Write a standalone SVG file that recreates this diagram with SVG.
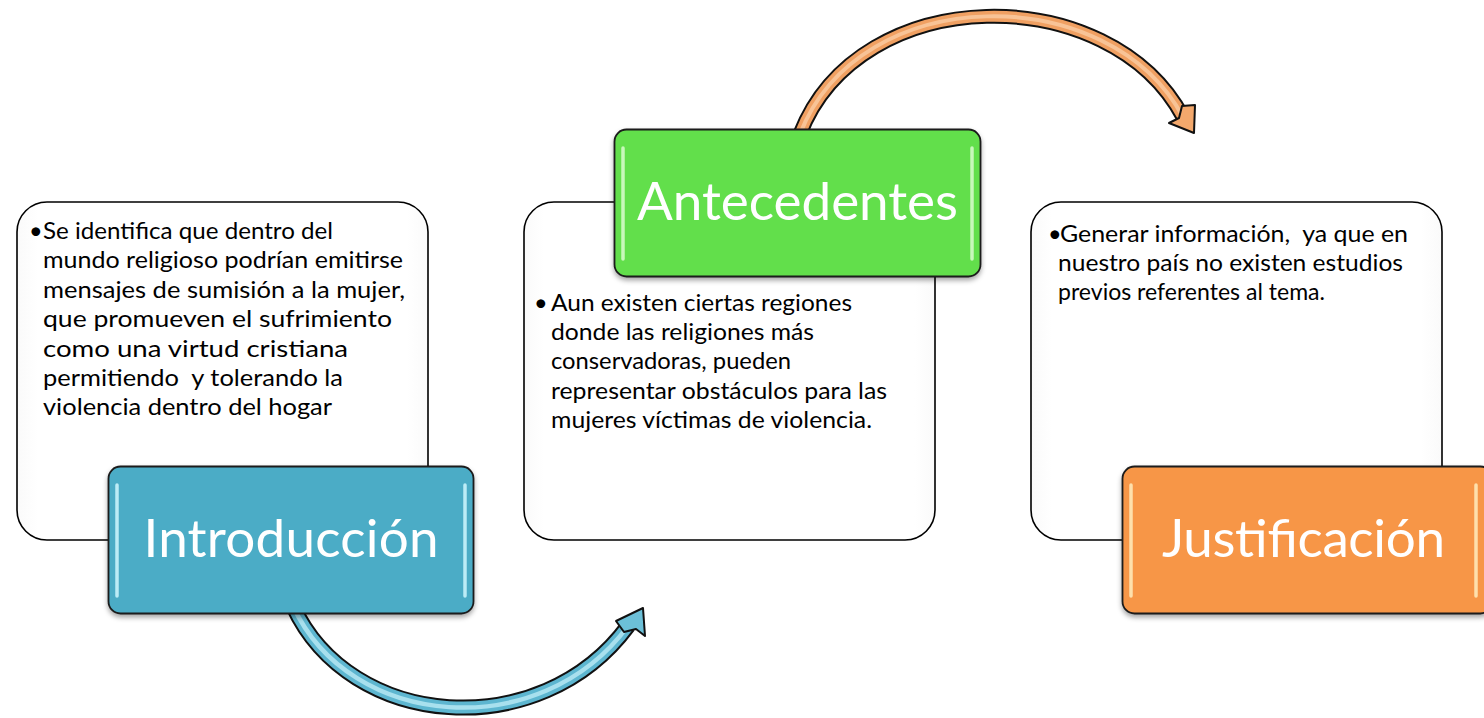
<svg xmlns="http://www.w3.org/2000/svg" width="1484" height="718" viewBox="0 0 1484 718">
<defs>
<style>
.panel{fill:url(#pg);stroke:#000;stroke-width:1.6}
.body{font-family:Lato,"Open Sans","Liberation Sans",sans-serif;font-size:23.5px;fill:#000}
.title{font-family:Lato,"Open Sans","Liberation Sans",sans-serif;font-size:53px;fill:#fff;text-anchor:middle}
.hl{stroke-width:3.5;stroke-linecap:round;opacity:0.9}
.tab{stroke:#1a1a1a;stroke-width:1.8}
</style>
<linearGradient id="pg" x1="0" y1="0" x2="1" y2="0">
<stop offset="0" stop-color="#fafafa"/><stop offset="0.05" stop-color="#ffffff"/><stop offset="0.95" stop-color="#ffffff"/><stop offset="1" stop-color="#fafafa"/>
</linearGradient>
<filter id="sh" x="-10%" y="-10%" width="120%" height="130%">
<feDropShadow dx="0" dy="3" stdDeviation="2.5" flood-color="#000" flood-opacity="0.35"/>
</filter>
</defs>

<g id="connectors">
<g id="arrow-blue">
<path d="M293 606 C350 730 540 745 628 626" fill="none" stroke="#111" stroke-width="16"/>
<path d="M293 606 C350 730 540 745 628 626" fill="none" stroke="#5DB6D0" stroke-width="12"/>
<path d="M293 606 C350 730 540 745 628 626" fill="none" stroke="#A8E0EE" stroke-width="4.5"/>
<polygon points="643,608 645,636 636,629 624,632 616,621" fill="#6CC0D8" stroke="#111" stroke-width="2" stroke-linejoin="round"/>
</g>
<g id="arrow-orange">
<path d="M800 134 C860 -20 1110 -20 1183 117" fill="none" stroke="#111" stroke-width="15"/>
<path d="M800 134 C860 -20 1110 -20 1183 117" fill="none" stroke="#F0A062" stroke-width="11"/>
<path d="M800 134 C860 -20 1110 -20 1183 117" fill="none" stroke="#F8C396" stroke-width="4"/>
<polygon points="1194,133 1169,123 1179,118 1182,106 1195,105" fill="#F3A86C" stroke="#111" stroke-width="2" stroke-linejoin="round"/>
</g>
</g>

<g id="node-introduccion">
<rect class="panel" x="17" y="202" width="411" height="338" rx="30"/>
<text class="body" x="29" y="239">•</text>
<text class="body" x="43" y="239" textLength="290" lengthAdjust="spacingAndGlyphs">Se identifica que dentro del</text>
<text class="body" x="43" y="268.4" textLength="360" lengthAdjust="spacingAndGlyphs">mundo religioso podrían emitirse</text>
<text class="body" x="43" y="297.8" textLength="362" lengthAdjust="spacingAndGlyphs">mensajes de sumisión a la mujer,</text>
<text class="body" x="43" y="327.2" textLength="349" lengthAdjust="spacingAndGlyphs">que promueven el sufrimiento</text>
<text class="body" x="43" y="356.6" textLength="305" lengthAdjust="spacingAndGlyphs">como una virtud cristiana</text>
<text class="body" x="43" y="386" textLength="300" lengthAdjust="spacingAndGlyphs" xml:space="preserve">permitiendo  y tolerando la</text>
<text class="body" x="43" y="415.4" textLength="289" lengthAdjust="spacingAndGlyphs">violencia dentro del hogar</text>
<g filter="url(#sh)">
<rect class="tab" x="108.5" y="466.5" width="365" height="147" rx="12" fill="#4BACC6"/>
</g>
<line class="hl" x1="117" y1="485" x2="117" y2="596" stroke="#C9F3FC"/>
<line class="hl" x1="465" y1="485" x2="465" y2="596" stroke="#C9F3FC"/>
<text class="title" x="291" y="557" textLength="295">Introducción</text>
</g>

<g id="node-antecedentes">
<rect class="panel" x="524" y="202" width="411" height="338" rx="30"/>
<text class="body" x="534" y="310.5">•</text>
<text class="body" x="551" y="310.5" textLength="301" lengthAdjust="spacingAndGlyphs">Aun existen ciertas regiones</text>
<text class="body" x="551" y="339.9" textLength="263" lengthAdjust="spacingAndGlyphs">donde las religiones más</text>
<text class="body" x="551" y="369.3" textLength="240" lengthAdjust="spacingAndGlyphs">conservadoras, pueden</text>
<text class="body" x="551" y="398.7" textLength="336" lengthAdjust="spacingAndGlyphs">representar obstáculos para las</text>
<text class="body" x="551" y="428.1" textLength="321" lengthAdjust="spacingAndGlyphs">mujeres víctimas de violencia.</text>
<g filter="url(#sh)">
<rect class="tab" x="614.5" y="129.5" width="366" height="147" rx="12" fill="#62DF4B"/>
</g>
<line class="hl" x1="623" y1="148" x2="623" y2="259" stroke="#D4FBC8"/>
<line class="hl" x1="972" y1="148" x2="972" y2="259" stroke="#D4FBC8"/>
<text class="title" x="797.5" y="220" textLength="321">Antecedentes</text>
</g>

<g id="node-justificacion">
<rect class="panel" x="1031" y="202" width="411" height="338" rx="30"/>
<text class="body" x="1048" y="241.5">•</text>
<text class="body" x="1060" y="241.5" textLength="348" lengthAdjust="spacingAndGlyphs" xml:space="preserve">Generar información,  ya que en</text>
<text class="body" x="1058" y="270.9" textLength="345" lengthAdjust="spacingAndGlyphs">nuestro país no existen estudios</text>
<text class="body" x="1058" y="300.3" textLength="267" lengthAdjust="spacingAndGlyphs">previos referentes al tema.</text>
<g filter="url(#sh)">
<rect class="tab" x="1122.5" y="466.5" width="370" height="147" rx="12" fill="#F79646"/>
</g>
<line class="hl" x1="1131" y1="485" x2="1131" y2="596" stroke="#FFE9B8"/>
<line class="hl" x1="1476" y1="485" x2="1476" y2="596" stroke="#FFE9B8"/>
<text class="title" x="1303.5" y="557" textLength="283">Justificación</text>
</g>
</svg>
